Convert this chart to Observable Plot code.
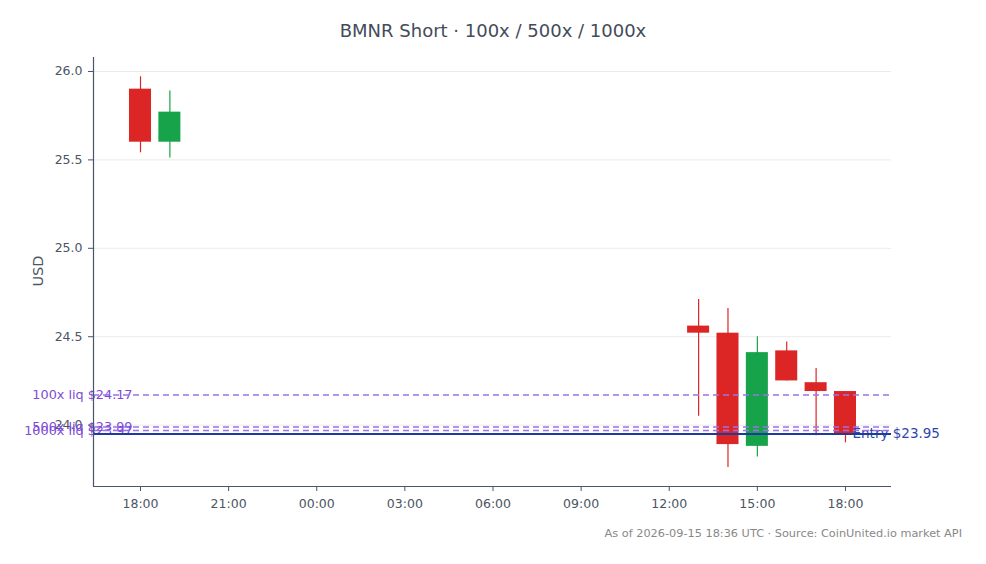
<!DOCTYPE html>
<html><head><meta charset="utf-8">
<script src="https://cdn.jsdelivr.net/npm/d3@7"></script>
<script src="https://cdn.jsdelivr.net/npm/@observablehq/plot@0.6"></script>
<style>
body{margin:0;background:#fff;font-family:"DejaVu Sans",sans-serif;}
#wrap{position:relative;width:986px;height:564px;overflow:hidden;}
#title{position:absolute;top:21px;left:0;width:986px;text-align:center;font-size:18px;line-height:20px;color:#434b5a;}
#chart{position:absolute;top:50px;left:0;}
#ylabel{position:absolute;left:38px;top:271px;transform:translate(-50%,-50%) rotate(-90deg);font-size:14.5px;line-height:16px;color:#4b5563;white-space:nowrap;}
#caption{position:absolute;top:527px;right:24px;font-size:11.3px;line-height:14px;color:#888;}
</style></head>
<body><div id="wrap"><div id="title">BMNR Short · 100x / 500x / 1000x</div><div id="chart"></div><div id="ylabel">USD</div><div id="caption">As of 2026-09-15 18:36 UTC · Source: CoinUnited.io market API</div></div>
<script>
const times = ["2026-09-14T18:00Z","2026-09-14T19:00Z","2026-09-15T13:00Z","2026-09-15T14:00Z","2026-09-15T15:00Z","2026-09-15T16:00Z","2026-09-15T17:00Z","2026-09-15T18:00Z"];
const opens  = [25.90, 25.60, 24.56, 24.52, 23.88, 24.42, 24.24, 24.19];
const highs  = [25.97, 25.89, 24.71, 24.66, 24.50, 24.47, 24.32, 24.19];
const lows   = [25.54, 25.51, 24.05, 23.76, 23.82, 24.25, 23.94, 23.90];
const closes = [25.60, 25.77, 24.52, 23.89, 24.41, 24.25, 24.19, 23.95];
const liqLevels = [24.17, 23.99, 23.97];
const liqLabels = ["100x liq $24.17", "500x liq $23.99", "1000x liq $23.97"];
const entryPrice = 23.95;
const entryLabel = "Entry $23.95";
const yTicks = [24.0, 24.5, 25.0, 25.5, 26.0];
const xDomain = [new Date("2026-09-14T16:24Z"), new Date("2026-09-15T19:34Z")];
const yDomain = [23.653, 26.079];

const candles = times.map((t, i) => ({t: new Date(t), open: opens[i], high: highs[i], low: lows[i], close: closes[i]}));
const liq = liqLevels.map((v, i) => ({level: v, label: liqLabels[i]}));
const col = d => d.close >= d.open ? "#16a34a" : "#dc2626";
const half = 22.5 * 60 * 1000;

const chart = Plot.plot({
  width: 986, height: 470,
  marginLeft: 93, marginRight: 95, marginTop: 7, marginBottom: 34,
  style: {fontFamily: "DejaVu Sans", color: "#475569", background: "transparent"},
  x: {type: "utc", domain: xDomain},
  y: {domain: yDomain},
  marks: [
    Plot.gridY(yTicks, {stroke: "#ebebeb", strokeOpacity: 1}),
    Plot.axisX({ticks: d3.utcHour.every(3), tickFormat: d3.utcFormat("%H:%M"), tickSize: 5, tickPadding: 8, fontSize: 12.5, fill: "#4b5563", label: null}),
    Plot.axisY({ticks: yTicks, tickFormat: d3.format(".1f"), tickSize: 5, tickPadding: 6, fontSize: 12.5, fill: "#4b5563", label: null}),
    Plot.ruleX(candles, {x: "t", y1: "low", y2: "high", stroke: col, strokeWidth: 1.2}),
    Plot.rect(candles, {x1: d => new Date(+d.t - half), x2: d => new Date(+d.t + half), y1: "open", y2: "close", fill: col}),
    Plot.text(liq, {y: "level", text: "label", frameAnchor: "left", textAnchor: "end", dx: 39, fill: "#7e4ad8", fontSize: 12.8}),
    Plot.text([entryLabel], {y: () => entryPrice, frameAnchor: "right", textAnchor: "start", dx: -39, fill: "#2e47a8", fontSize: 13.5}),
    Plot.ruleY(liq, {y: "level", stroke: "#9d72e8", strokeWidth: 1.5, strokeDasharray: "6,4"}),
    Plot.ruleY([entryPrice], {stroke: "#1e3a9f", strokeWidth: 2}),
    Plot.ruleX([xDomain[0]], {stroke: "#4a5568", strokeWidth: 1.2}),
    Plot.ruleY([yDomain[0]], {stroke: "#4a5568", strokeWidth: 1.2})
  ]
});
document.getElementById("chart").appendChild(chart);
</script>
</body></html>
